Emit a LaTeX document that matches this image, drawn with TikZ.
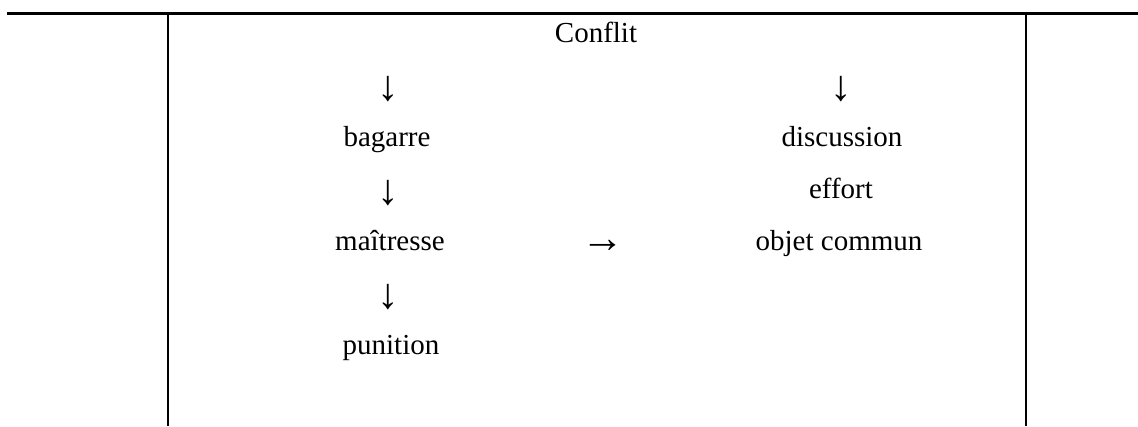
\documentclass[tikz,border=0pt]{standalone}
\usepackage{fontspec}
\setmainfont{Liberation Serif}
\begin{document}
\begin{tikzpicture}[x=1pt,y=-1pt,
  txt/.style={anchor=base, inner sep=0pt, font=\fontsize{29}{35}\selectfont},
  arr/.style={anchor=base, inner sep=0pt, font=\fontsize{43}{50}\selectfont},
  rule/.style={line width=2.4pt, line cap=butt}]
\useasboundingbox (0,0) rectangle (1138,426);
% table rules
\coordinate (tl) at (7,13.5);
\coordinate (tr) at (1138,13.5);
\coordinate (v1t) at (168,13.5);
\coordinate (v1b) at (168,426);
\coordinate (v2t) at (1026,13.5);
\coordinate (v2b) at (1026,426);
\draw[rule] (tl) -- (tr);
\draw[rule] (v1t) -- (v1b);
\draw[rule] (v2t) -- (v2b);
% texts
\node[txt] (conflit) at (596,42) {Conflit};
\node[arr] (a1) at (388,100) {↓};
\node[arr] (a2) at (841,100) {↓};
\node[txt] (bagarre) at (387,146) {bagarre};
\node[txt] (discussion) at (842,146) {discussion};
\node[arr] (a3) at (388,204) {↓};
\node[txt] (effort) at (841,198) {effort};
\node[txt] (maitresse) at (390,250) {maîtresse};
\node[arr] (a4) at (603,252) {→};
\node[txt] (objet) at (839,250) {objet commun};
\node[arr] (a5) at (388,308) {↓};
\node[txt] (punition) at (391,354) {punition};
\end{tikzpicture}
\end{document}
